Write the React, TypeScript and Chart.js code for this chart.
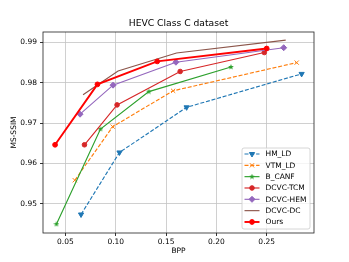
import React, { useEffect, useRef } from 'react';
import { Chart, registerables } from 'chart.js';
import { drawPoint } from 'chart.js/helpers';
Chart.register(...registerables);

const title = 'HEVC Class C dataset';
const xLabel = 'BPP';
const yLabel = 'MS-SSIM';
const xTicks = [0.05, 0.1, 0.15, 0.2, 0.25];
const yTicks = [0.95, 0.96, 0.97, 0.98, 0.99];

const seriesNames = ['HM_LD', 'VTM_LD', 'B_CANF', 'DCVC-TCM', 'DCVC-HEM', 'DCVC-DC', 'Ours'];
const hmBpp = [0.0655, 0.1037, 0.1704, 0.2847];
const hmSsim = [0.9473, 0.9627, 0.9739, 0.9822];
const vtmBpp = [0.0593, 0.097, 0.157, 0.2798];
const vtmSsim = [0.9558, 0.9691, 0.978, 0.985];
const canfBpp = [0.041, 0.0848, 0.1329, 0.2145];
const canfSsim = [0.9449, 0.9685, 0.9778, 0.9839];
const tcmBpp = [0.0689, 0.1013, 0.164, 0.2476];
const tcmSsim = [0.9646, 0.9745, 0.9828, 0.9875];
const hemBpp = [0.0645, 0.0973, 0.1598, 0.2669];
const hemSsim = [0.9722, 0.9794, 0.9851, 0.9887];
const dcBpp = [0.0675, 0.1023, 0.1604, 0.2689];
const dcSsim = [0.977, 0.9829, 0.9874, 0.9906];
const oursBpp = [0.0397, 0.0818, 0.1412, 0.25];
const oursSsim = [0.9646, 0.9796, 0.9853, 0.9885];

const allBpp = [hmBpp, vtmBpp, canfBpp, tcmBpp, hemBpp, dcBpp, oursBpp];
const allSsim = [hmSsim, vtmSsim, canfSsim, tcmSsim, hemSsim, dcSsim, oursSsim];

const FONT = '"DejaVu Sans", sans-serif';

function makeStar(color: string, size: number) {
  const c = document.createElement('canvas');
  c.width = size;
  c.height = size;
  const g = c.getContext('2d')!;
  const cx = size / 2, cy = size / 2;
  const R = size / 2, r = R * 0.42;
  g.beginPath();
  for (let i = 0; i < 10; i++) {
    const rad = i % 2 === 0 ? R : r;
    const ang = -Math.PI / 2 + (i * Math.PI) / 5;
    const px = cx + rad * Math.cos(ang), py = cy + rad * Math.sin(ang);
    if (i === 0) g.moveTo(px, py); else g.lineTo(px, py);
  }
  g.closePath();
  g.fillStyle = color;
  g.fill();
  return c;
}

type Style = {
  color: string; dash: number[]; width: number; point: any; radius: number; rotation: number; pbw: number;
};

function makeStyles(): Style[] {
  return [
    { color: '#1f77b4', dash: [4, 1.8], width: 1.15, point: 'triangle', radius: 3, rotation: 180, pbw: 1 },
    { color: '#ff7f0e', dash: [4, 1.8], width: 1.15, point: 'crossRot', radius: 3, rotation: 0, pbw: 1 },
    { color: '#2ca02c', dash: [], width: 1.15, point: makeStar('#2ca02c', 6), radius: 3, rotation: 0, pbw: 1 },
    { color: '#d62728', dash: [], width: 1.15, point: 'circle', radius: 2.3, rotation: 0, pbw: 1 },
    { color: '#9467bd', dash: [], width: 1.15, point: 'rectRot', radius: 3, rotation: 0, pbw: 1 },
    { color: '#8c564b', dash: [], width: 1.15, point: false, radius: 0, rotation: 0, pbw: 0 },
    { color: '#ff0000', dash: [], width: 1.9, point: 'circle', radius: 2.4, rotation: 0, pbw: 1 },
  ];
}

export default function App() {
  const ref = useRef<HTMLCanvasElement | null>(null);
  useEffect(() => {
    if (!ref.current) return;
    const styles = makeStyles();
    const datasets = seriesNames.map((name, i) => {
      const s = styles[i];
      return {
        label: name,
        data: allBpp[i].map((x, j) => ({ x, y: allSsim[i][j] })),
        showLine: true,
        borderColor: s.color,
        backgroundColor: s.color,
        borderWidth: s.width,
        borderDash: s.dash,
        pointStyle: s.point,
        pointRadius: s.radius,
        pointRotation: s.rotation,
        pointBorderWidth: s.pbw,
        pointBorderColor: s.color,
        pointBackgroundColor: s.color,
        order: seriesNames.length - i,
        tension: 0,
      };
    });

    const decor = {
      id: 'decor',
      afterDatasetsDraw(chart: any) {
        const { ctx, chartArea: a } = chart;
        ctx.save();
        ctx.strokeStyle = '#222';
        ctx.lineWidth = 0.8;
        ctx.setLineDash([]);
        ctx.strokeRect(a.left, a.top, a.right - a.left, a.bottom - a.top);
        ctx.fillStyle = '#000';
        ctx.textAlign = 'center';
        ctx.textBaseline = 'middle';
        ctx.font = `9.2px ${FONT}`;
        ctx.fillText(title, (a.left + a.right) / 2, 24);
        ctx.font = `7.5px ${FONT}`;
        ctx.fillText(xLabel, (a.left + a.right) / 2, 251.5);
        ctx.save();
        ctx.translate(14.5, (a.top + a.bottom) / 2);
        ctx.rotate(-Math.PI / 2);
        ctx.fillText(yLabel, 0, 0);
        ctx.restore();

        // legend
        const bx = 242, by = 148, bw = 68, bh = 81;
        ctx.beginPath();
        const rr = 2;
        ctx.moveTo(bx + rr, by);
        ctx.arcTo(bx + bw, by, bx + bw, by + bh, rr);
        ctx.arcTo(bx + bw, by + bh, bx, by + bh, rr);
        ctx.arcTo(bx, by + bh, bx, by, rr);
        ctx.arcTo(bx, by, bx + bw, by, rr);
        ctx.closePath();
        ctx.fillStyle = 'rgba(255,255,255,0.8)';
        ctx.fill();
        ctx.strokeStyle = '#cccccc';
        ctx.lineWidth = 0.8;
        ctx.stroke();
        seriesNames.forEach((name, i) => {
          const s = styles[i];
          const y = 154 + i * 11.33;
          ctx.strokeStyle = s.color;
          ctx.lineWidth = s.width;
          ctx.setLineDash(s.dash);
          ctx.beginPath();
          ctx.moveTo(244.5, y);
          ctx.lineTo(259.5, y);
          ctx.stroke();
          ctx.setLineDash([]);
          if (s.point) {
            ctx.fillStyle = s.color;
            ctx.strokeStyle = s.color;
            ctx.lineWidth = s.pbw;
            drawPoint(ctx, { pointStyle: s.point, rotation: s.rotation, radius: s.radius, borderWidth: s.pbw } as any, 252, y);
          }
          ctx.fillStyle = '#000';
          ctx.textAlign = 'left';
          ctx.textBaseline = 'middle';
          ctx.font = `7.5px ${FONT}`;
          ctx.fillText(name, 265.5, y + 0.5);
        });
        ctx.restore();
      },
    };

    const chart = new Chart(ref.current, {
      type: 'scatter',
      data: { datasets: datasets as any },
      options: {
        animation: false,
        responsive: true,
        maintainAspectRatio: false,
        layout: { padding: { top: 32, right: 35, left: 0, bottom: 0 } },
        plugins: { legend: { display: false }, tooltip: { enabled: false }, title: { display: false } },
        scales: {
          x: {
            type: 'linear',
            min: 0.0277,
            max: 0.297,
            afterBuildTicks: (scale: any) => { scale.ticks = xTicks.map((v) => ({ value: v })); },
            afterFit: (scale: any) => { scale.height = 29; },
            ticks: {
              color: '#000',
              font: { family: FONT, size: 7.5 },
              padding: 2,
              maxRotation: 0,
              autoSkip: false,
              callback: (v: any) => Number(v).toFixed(2),
            },
            grid: { color: '#c4c4c4', lineWidth: 0.8, tickLength: 3, tickColor: '#000', tickWidth: 0.8 },
            border: { display: false },
          },
          y: {
            type: 'linear',
            min: 0.9427,
            max: 0.9926,
            afterBuildTicks: (scale: any) => { scale.ticks = yTicks.map((v) => ({ value: v })); },
            afterFit: (scale: any) => { scale.width = 43; },
            ticks: {
              color: '#000',
              font: { family: FONT, size: 7.5 },
              padding: 3,
              autoSkip: false,
              callback: (v: any) => Number(v).toFixed(2),
            },
            grid: { color: '#c4c4c4', lineWidth: 0.8, tickLength: 3, tickColor: '#000', tickWidth: 0.8 },
            border: { display: false },
          },
        },
      },
      plugins: [decor],
    });
    return () => chart.destroy();
  }, []);

  return (
    <div style={{ position: 'absolute', left: 0, top: 0, width: 349, height: 262, background: '#fff' }}>
      <canvas ref={ref} />
    </div>
  );
}
